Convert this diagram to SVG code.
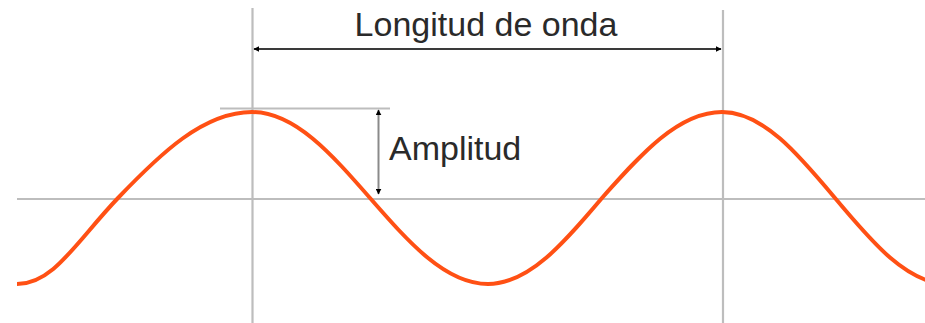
<svg xmlns="http://www.w3.org/2000/svg" width="925" height="323" viewBox="0 0 925 323">
  <defs>
    <style>
      .guide { stroke: #bdbdbd; stroke-width: 2.2; fill: none; }
      .dim { stroke: #3a3a3a; stroke-width: 2.2; fill: none; }
      .amp { stroke: #8a8a8a; stroke-width: 2; fill: none; }
      .wave { stroke: #ff5014; stroke-width: 4; fill: none; stroke-linecap: butt; }
      .label { font-family: "Liberation Sans", Arial, sans-serif; font-size: 34px; fill: #2a2a2a; }
    </style>
    <marker id="ah" viewBox="0 0 10 10" refX="9" refY="5" markerWidth="6" markerHeight="6" markerUnits="userSpaceOnUse" orient="auto-start-reverse">
      <path d="M0,0 L10,5 L0,10 Z" fill="#000"/>
    </marker>
  </defs>
  <rect width="925" height="323" fill="#fff"/>
  <g id="guides">
    <line class="guide" x1="17" y1="199" x2="925" y2="199"/>
    <line class="guide" x1="252.5" y1="8" x2="252.5" y2="323"/>
    <line class="guide" x1="723" y1="10" x2="723" y2="323"/>
    <line class="guide" x1="220" y1="108.5" x2="390" y2="108.5"/>
  </g>
  <g id="wave">
    <path class="wave" d="M17,284 C53.5,284 76,242 118,198 C160,154 203.5,112 252,112 C294.7,112 331.5,154 370,198 C408.5,242 445.3,284 488,284 C529.3,284 564.8,242 602,198 C641.1,154 678.6,112 722,112 C762.9,112 798.2,154 835,198 C871.8,242 907.1,284 948,284"/>
  </g>
  <g id="connectors">
    <line class="dim" x1="254" y1="49" x2="721" y2="49" marker-start="url(#ah)" marker-end="url(#ah)"/>
    <line class="amp" x1="378.5" y1="110" x2="378.5" y2="194" marker-start="url(#ah)" marker-end="url(#ah)"/>
  </g>
  <g id="wavelength-label">
    <text class="label" x="486" y="36" text-anchor="middle">Longitud de onda</text>
  </g>
  <g id="amplitude-label">
    <text class="label" x="389" y="160">Amplitud</text>
  </g>
</svg>
